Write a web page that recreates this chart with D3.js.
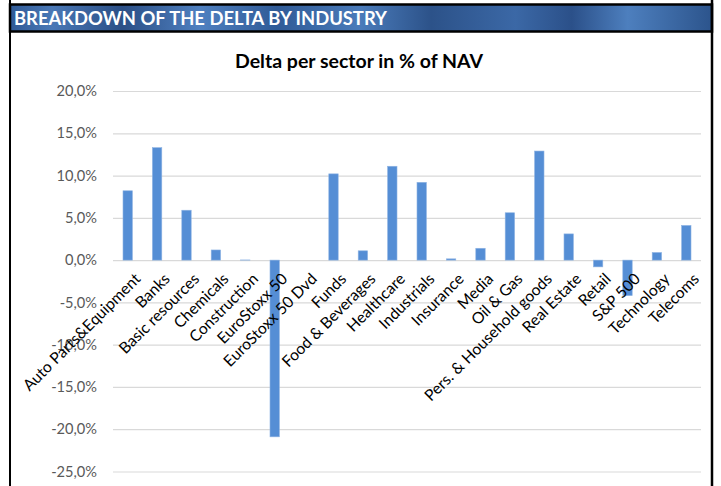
<!DOCTYPE html>
<html>
<head>
<meta charset="utf-8">
<script src="https://cdn.jsdelivr.net/npm/d3@7"></script>
<style>
    body { margin: 0; background: #fff; }
    svg text { font-family: Lato, "Open Sans", sans-serif; }
</style>
</head>
<body>
<div id="chart"></div>
<script>
// chart values (% of NAV)
const sectors = [
    "Auto Parts&Equipment", "Banks", "Basic resources", "Chemicals", "Construction",
    "EuroStoxx 50", "EuroStoxx 50 Dvd", "Funds", "Food & Beverages", "Healthcare",
    "Industrials", "Insurance", "Media", "Oil & Gas", "Pers. & Household goods",
    "Real Estate", "Retail", "S&P 500", "Technology", "Telecoms"
];
const deltas = [
    8.2, 13.3, 5.9, 1.2, 0.02,
    -20.9, 0, 10.2, 1.1, 11.1,
    9.2, 0.15, 1.4, 5.6, 12.9,
    3.1, -0.8, -4.2, 0.9, 4.1
];
const yTicks = [20, 15, 10, 5, 0, -5, -10, -15, -20, -25];
const headerText = "BREAKDOWN OF THE DELTA BY INDUSTRY";
const chartTitle = "Delta per sector in % of NAV";

const data = sectors.map((name, i) => ({ name: name, value: deltas[i] }));

const W = 721, H = 486;
const margin = { top: 91, right: 20, bottom: 14, left: 113 };
const width = 701 - margin.left;
const height = 471.5 - margin.top;

const svg = d3.select('#chart').append('svg')
    .attr('width', W)
    .attr('height', H);

// header band with the brushed blue look
const grad = svg.append('defs').append('linearGradient')
    .attr('id', 'hdr')
    .attr('x1', '0%').attr('x2', '100%');
[[0, '#2f5a96'], [0.06, '#4a78b6'], [0.16, '#2b4f86'], [0.27, '#4f80c0'], [0.38, '#305b97'],
 [0.5, '#4a7bba'], [0.6, '#2c5289'], [0.72, '#3b68a6'], [0.8, '#2b5089'], [0.88, '#4d7fbe'], [1, '#2c548c']]
    .forEach(s => grad.append('stop').attr('offset', s[0]).attr('stop-color', s[1]));

svg.append('rect')
    .attr('x', 10).attr('y', 4.5)
    .attr('width', 702).attr('height', 27)
    .attr('fill', 'url(#hdr)')
    .attr('stroke', '#000')
    .attr('stroke-width', 2.5);

svg.append('text')
    .attr('x', 14)
    .attr('y', 25)
    .attr('fill', '#fff')
    .style('font-size', '18.4px')
    .style('font-weight', 'bold')
    .text(headerText);

// frame sides
svg.append('line')
    .attr('x1', 10).attr('x2', 10).attr('y1', 0).attr('y2', H)
    .attr('stroke', '#000').attr('stroke-width', 2);
svg.append('line')
    .attr('x1', 712).attr('x2', 712).attr('y1', 0).attr('y2', H)
    .attr('stroke', '#000').attr('stroke-width', 2.5);

// chart title
svg.append('text')
    .attr('x', 359)
    .attr('y', 67.5)
    .attr('text-anchor', 'middle')
    .attr('fill', '#000')
    .style('font-size', '19.5px')
    .style('font-weight', 'bold')
    .text(chartTitle);

const plot = svg.append('g')
    .attr('transform', `translate(${margin.left},${margin.top})`);

const yScale = d3.scaleLinear()
    .domain([20, -25])
    .range([0, height]);

const xScale = d3.scaleBand()
    .domain(sectors)
    .range([0, width])
    .paddingInner(0.68)
    .paddingOuter(0.34);

// gridlines
plot.append('g')
    .attr('class', 'grid')
    .call(d3.axisLeft(yScale)
        .tickValues(yTicks)
        .tickSize(-width)
        .tickFormat(''))
    .call(g => g.select('.domain').remove())
    .call(g => g.selectAll('line').attr('stroke', '#d9d9d9').attr('stroke-width', 1.2));

// y labels
plot.append('g')
    .call(d3.axisLeft(yScale)
        .tickValues(yTicks)
        .tickSize(0)
        .tickPadding(16)
        .tickFormat(d => d3.format('.1f')(d).replace('.', ',').replace('\u2212', '-') + '%'))
    .call(g => g.select('.domain').remove())
    .call(g => g.selectAll('text')
        .attr('fill', '#595959')
        .style('font-size', '14.6px')
        .style('font-family', 'Lato, sans-serif'));

// bars
plot.selectAll('.bar')
    .data(data)
    .enter()
    .append('rect')
    .attr('class', 'bar')
    .attr('x', d => xScale(d.name))
    .attr('y', d => yScale(Math.max(0, d.value)))
    .attr('width', xScale.bandwidth())
    .attr('height', d => Math.abs(yScale(d.value) - yScale(0)))
    .attr('fill', '#558ed5')
    .attr('stroke', '#8fb4e3')
    .attr('stroke-width', 0.6);

// category labels, rotated, drawn on top of the bars
plot.append('g')
    .selectAll('text')
    .data(sectors)
    .enter()
    .append('text')
    .attr('transform', d => `translate(${xScale(d) + xScale.bandwidth() / 2 + 6},${yScale(0) + 12}) rotate(-45)`)
    .attr('text-anchor', 'end')
    .attr('dy', '0.7em')
    .attr('fill', '#000')
    .style('font-size', '15.7px')
    .text(d => d);
</script>
</body>
</html>
